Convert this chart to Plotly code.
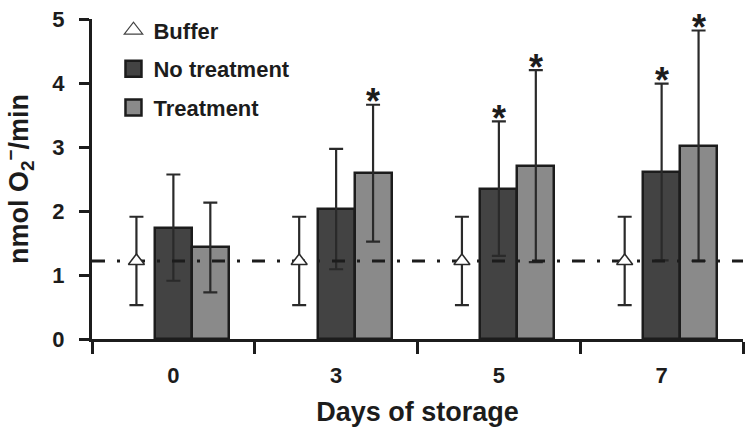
import plotly.graph_objects as go

# ---- data ----
days = ["0", "3", "5", "7"]
buffer_mean = [1.22, 1.22, 1.22, 1.22]
buffer_err = [0.69, 0.69, 0.69, 0.69]
no_treat = [1.74, 2.03, 2.35, 2.61]
no_treat_err = [0.83, 0.94, 1.05, 1.38]
treat = [1.43, 2.59, 2.70, 3.02]
treat_err = [0.70, 1.07, 1.50, 1.80]
sig_no_treat = [False, False, True, True]
sig_treat = [False, True, True, True]
baseline = 1.22

# ---- style ----
FONT = "Liberation Sans, Arial, sans-serif"
INK = "#1c1c1c"
DARK = "#434343"
LIGHT = "#8a8a8a"
SLOT = 0.227  # width of one slot within a day group (axis units)
x_range = [-0.5, len(days) - 0.5]

idx = list(range(len(days)))
x_buf = [i - SLOT for i in idx]
x_dark = [i for i in idx]
x_light = [i + SLOT for i in idx]

fig = go.Figure()

bar_line = dict(color=INK, width=2.5)
err_style = dict(type="data", visible=True, color="#2a2a2a", thickness=2.2, width=7)

fig.add_trace(go.Bar(
    x=x_dark, y=no_treat, width=SLOT, marker=dict(color=DARK, line=bar_line),
    error_y=dict(array=no_treat_err, **err_style), showlegend=False, name="No treatment"))
fig.add_trace(go.Bar(
    x=x_light, y=treat, width=SLOT, marker=dict(color=LIGHT, line=bar_line),
    error_y=dict(array=treat_err, **err_style), showlegend=False, name="Treatment"))

# baseline dash-dot line (buffer level)
fig.add_trace(go.Scatter(
    x=x_range, y=[baseline, baseline], mode="lines",
    line=dict(color=INK, width=3, dash="13px,12px,3px,12px"),
    showlegend=False, hoverinfo="skip", cliponaxis=False))

# buffer points
fig.add_trace(go.Scatter(
    x=x_buf, y=buffer_mean, mode="markers",
    marker=dict(symbol="triangle-up", size=14, color="white",
                line=dict(color="#2a2a2a", width=1.5)),
    error_y=dict(array=buffer_err, **err_style), showlegend=False, name="Buffer"))

# legend proxies
fig.add_trace(go.Scatter(
    x=[None], y=[None], mode="markers", name="Buffer", legendgroup="a",
    marker=dict(symbol="triangle-up", size=16, color="white",
                line=dict(color="#444444", width=1.2))))
fig.add_trace(go.Scatter(
    x=[None], y=[None], mode="markers", name="No treatment", legendgroup="b",
    marker=dict(symbol="square", size=16, color=DARK, line=dict(color=INK, width=2.5))))
fig.add_trace(go.Scatter(
    x=[None], y=[None], mode="markers", name="Treatment", legendgroup="c",
    marker=dict(symbol="square", size=16, color=LIGHT, line=dict(color=INK, width=2.5))))

# significance stars
for xs, ys, es, sig in ((x_dark, no_treat, no_treat_err, sig_no_treat),
                        (x_light, treat, treat_err, sig_treat)):
    for xv, yv, ev, s in zip(xs, ys, es, sig):
        if s:
            fig.add_annotation(x=xv, y=yv + ev, text="*", showarrow=False,
                               yanchor="middle", yshift=3,
                               font=dict(family=FONT, size=36, color=INK, weight="bold"))

fig.update_layout(
    width=750, height=434,
    margin=dict(l=92, r=7, t=17, b=95),
    paper_bgcolor="white", plot_bgcolor="white",
    font=dict(family=FONT, color=INK),
    bargap=0, barmode="overlay",
    legend=dict(x=0.033, y=1.03, xanchor="left", yanchor="top",
                bgcolor="rgba(0,0,0,0)", traceorder="grouped", tracegroupgap=7,
                font=dict(family=FONT, size=22, color=INK, weight="bold"),
                itemsizing="trace"),
)

fig.update_xaxes(
    range=x_range, tickmode="array", tickvals=idx, ticktext=days,
    ticks="", ticklabelstandoff=15,
    tickfont=dict(family=FONT, size=22, color=INK, weight="bold"),
    showline=True, linewidth=3, linecolor=INK, showgrid=False, zeroline=False,
    minor=dict(tickmode="array", tickvals=[i - 0.5 for i in range(len(days) + 1)],
               ticks="outside", ticklen=12, tickwidth=3, tickcolor=INK),
    title=dict(text="Days of storage", standoff=15,
               font=dict(family=FONT, size=27, color=INK, weight="bold")),
)
fig.update_yaxes(
    range=[0, 5], tickmode="array", tickvals=[0, 1, 2, 3, 4, 5],
    ticks="outside", ticklen=10, tickwidth=3, tickcolor=INK, ticklabelstandoff=10,
    tickfont=dict(family=FONT, size=22, color=INK, weight="bold"),
    showline=True, linewidth=3, linecolor=INK, showgrid=False, zeroline=False,
    title=dict(text="nmol O<sub>2</sub><sup>−</sup>/min", standoff=16,
               font=dict(family=FONT, size=27, color=INK, weight="bold")),
)

fig.write_html("out.html", config={"displayModeBar": False},
               post_script="document.body.style.margin='0';")
